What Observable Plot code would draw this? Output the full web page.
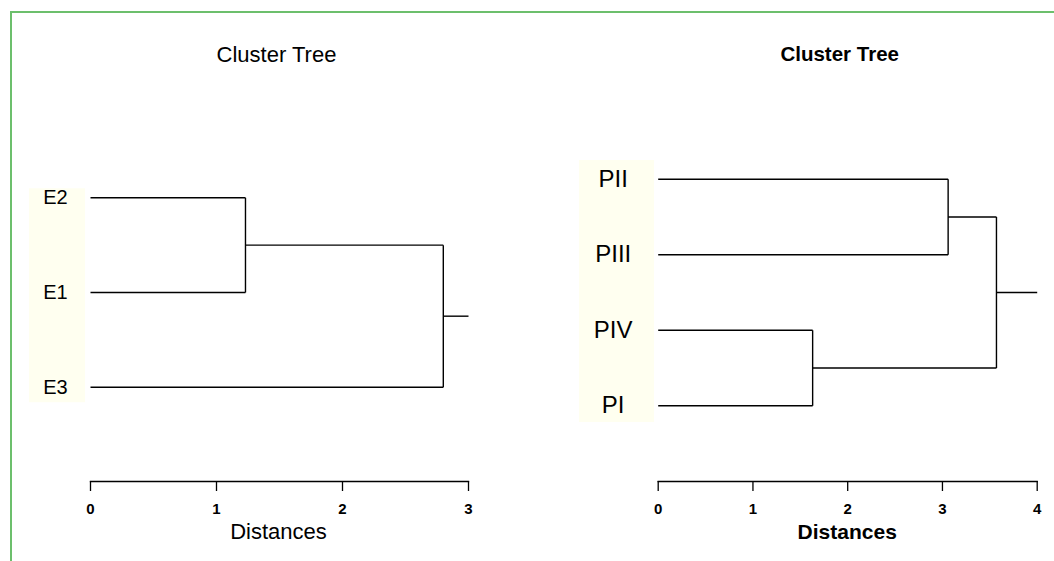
<!DOCTYPE html>
<html>
<head>
<meta charset="utf-8">
<script src="https://cdn.jsdelivr.net/npm/d3@7"></script>
<script src="https://cdn.jsdelivr.net/npm/@observablehq/plot@0.6"></script>
<style>
  html, body { margin: 0; padding: 0; background: white; }
  #wrap { position: relative; width: 1054px; height: 561px; overflow: hidden; background: white; font-family: "Liberation Sans", Arial, sans-serif; }
  #wrap svg { position: absolute; left: 0; top: 0; }
  #border { position: absolute; left: 10px; top: 11px; width: 1100px; height: 600px; border-left: 2px solid #6cbf6c; border-top: 2px solid #6cbf6c; }
</style>
</head>
<body>
<div id="wrap"><div id="border"></div></div>
<script>
// ---- Data ----
// Left dendrogram: leaves in displayed order (top to bottom)
const leftTitle = "Cluster Tree";
const leftLeaves = ["E2", "E1", "E3"];
// merge table (R style: negative = leaf position, positive = earlier merge step)
const leftMerge = [[-1, -2], [1, -3]];
const leftHeights = [1.23, 2.80];
const leftTicks = [0, 1, 2, 3];

// Right dendrogram
const rightTitle = "Cluster Tree";
const rightLeaves = ["PII", "PIII", "PIV", "PI"];
const rightMerge = [[-3, -4], [-1, -2], [2, 1]];
const rightHeights = [1.63, 3.06, 3.57];
const rightTicks = [0, 1, 2, 3, 4];

const axisLabel = "Distances";

function segments(leaves, merge, heights, ticks) {
  const nodes = [];
  const pos = id => id < 0 ? {x: 0, y: -id - 1} : nodes[id - 1];
  const segs = [];
  merge.forEach(([a, b], i) => {
    const A = pos(a), B = pos(b), h = heights[i];
    segs.push({x1: A.x, y1: A.y, x2: h, y2: A.y});
    segs.push({x1: B.x, y1: B.y, x2: h, y2: B.y});
    segs.push({x1: h, y1: A.y, x2: h, y2: B.y});
    nodes.push({x: h, y: (A.y + B.y) / 2});
  });
  const root = nodes[nodes.length - 1];
  segs.push({x1: root.x, y1: root.y, x2: d3.max(ticks), y2: root.y});
  return segs;
}

function dendro(o) {
  const n = o.leaves.length;
  const segs = segments(o.leaves, o.merge, o.heights, o.ticks);
  return Plot.plot({
    width: 1054,
    height: 561,
    marginLeft: o.mL,
    marginRight: o.mR,
    marginTop: 20,
    marginBottom: 80,
    insetTop: o.iT,
    insetBottom: o.iB,
    style: {background: "transparent", fontFamily: "'Liberation Sans', Arial, sans-serif", color: "black"},
    x: {domain: [0, d3.max(o.ticks)]},
    y: {domain: [0, n - 1], reverse: true, axis: null},
    marks: [
      Plot.rect([0], {x1: 0, x2: 0, y1: 0, y2: n - 1, fill: "#fffff0",
        insetLeft: o.boxL, insetRight: o.boxR, insetTop: o.boxT, insetBottom: o.boxB}),
      Plot.text(o.leaves, {x: 0, y: (d, i) => i, text: d => d, dx: o.labDx, textAnchor: "middle",
        fontSize: o.labSize, fill: "black"}),
      Plot.link(segs, {x1: "x1", y1: "y1", x2: "x2", y2: "y2", stroke: "black", strokeWidth: 1.4}),
      Plot.frame({anchor: "bottom", stroke: "black", strokeWidth: 1.3}),
      Plot.axisX(o.ticks, {anchor: "bottom", tickSize: 10, tickPadding: 12, fontSize: 15,
        fontWeight: "bold", label: null, tickFormat: d3.format("d"),
        stroke: "black", strokeWidth: 1.3, fill: "black"}),
      Plot.text([o.title], {frameAnchor: "top", dy: 26, dx: o.titleDx, fontSize: o.titleSize,
        fontWeight: o.bold ? "bold" : "normal", fill: "black"}),
      Plot.text([axisLabel], {frameAnchor: "bottom", dy: 57, dx: o.labelDx, fontSize: o.axSize,
        fontWeight: o.bold ? "bold" : "normal", fill: "black"})
    ]
  });
}

const wrap = document.getElementById("wrap");
wrap.appendChild(dendro({
  leaves: leftLeaves, merge: leftMerge, heights: leftHeights, ticks: leftTicks, title: leftTitle,
  mL: 90, mR: 586, iT: 177.3, iB: 94.3,
  boxL: -61, boxR: 5, boxT: -9, boxB: -15.5, labDx: -35, labSize: 20,
  titleDx: -3, titleSize: 22, labelDx: -1, axSize: 22, bold: false
}));
wrap.appendChild(dendro({
  leaves: rightLeaves, merge: rightMerge, heights: rightHeights, ticks: rightTicks, title: rightTitle,
  mL: 657.7, mR: 17.3, iT: 158.7, iB: 75.7,
  boxL: -78.7, boxR: 3.7, boxT: -18.7, boxB: -16.7, labDx: -45, labSize: 24,
  titleDx: -8, titleSize: 20.5, labelDx: -0.5, axSize: 21, bold: true
}));
</script>
</body>
</html>
